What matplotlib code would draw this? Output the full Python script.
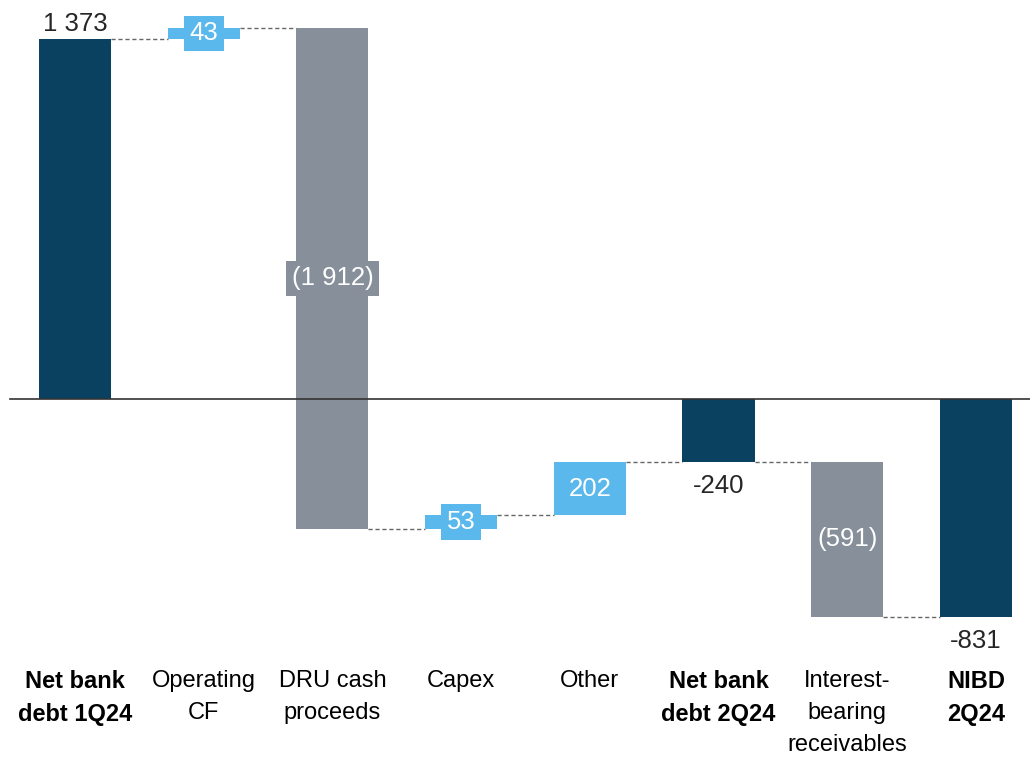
import matplotlib.pyplot as plt
from matplotlib.transforms import blended_transform_factory

# waterfall data (NOK million)
categories = ["Net bank\ndebt 1Q24", "Operating\nCF", "DRU cash\nproceeds", "Capex",
              "Other", "Net bank\ndebt 2Q24", "Interest-\nbearing\nreceivables", "NIBD\n2Q24"]
values = [1373, 43, -1912, 53, 202, -240, -591, -831]
is_total = [True, False, False, False, False, True, False, True]
value_labels = ["1 373", "43", "(1 912)", "53", "202", "-240", "(591)", "-831"]
bold_cats = [True, False, False, False, False, True, False, True]

NAVY = "#0b4160"
GREY = "#87909a"
BLUE = "#5bb8ec"
TEXT = "#262626"

plt.rcParams["font.family"] = ["Liberation Sans", "DejaVu Sans"]

fig = plt.figure(figsize=(10.3, 7.57), dpi=100)
ax = fig.add_axes([0, 0, 1, 1])
px = 0.2622  # pixels per unit
ax.set_xlim(-75 / 128.7, (1030 - 75) / 128.7)
ax.set_ylim(-(757 - 399) / px, 399 / px)
ax.axis("off")

width = 0.56
level = 0
bars = []
for i, (v, tot) in enumerate(zip(values, is_total)):
    if tot:
        bottom, top = min(0, v), max(0, v)
        color = NAVY
        level = v
    else:
        start = level
        level = level + v
        bottom, top = min(start, level), max(start, level)
        color = GREY if v < 0 else BLUE
    ax.bar(i, top - bottom, bottom=bottom, width=width, color=color, zorder=2)
    bars.append((bottom, top, color, level))

# dashed connectors
for i in range(len(bars) - 1):
    lvl = bars[i][3]
    ax.plot([i + width / 2, i + 1 - width / 2], [lvl, lvl], ls=(0, (3, 2)),
            color="#666666", lw=1.0, zorder=1)

ax.axhline(0, xmin=10 / 1030, xmax=1, color="#333333", lw=1.2, zorder=3)

# value labels
for i, (bottom, top, color, lvl) in enumerate(bars):
    lab = value_labels[i]
    if is_total[i]:
        if values[i] > 0:
            ax.text(i, top + 10, lab, ha="center", va="bottom", fontsize=18.5, color=TEXT)
        else:
            ax.text(i, bottom - 45, lab, ha="center", va="top", fontsize=18.5, color=TEXT)
    else:
        mid = (bottom + top) / 2
        ax.text(i, mid, lab, ha="center", va="center", fontsize=18.5, color="white", zorder=4,
                bbox=dict(facecolor=color, edgecolor="none", pad=4))

# category labels
trans = blended_transform_factory(ax.transData, fig.transFigure)
for i, (c, b) in enumerate(zip(categories, bold_cats)):
    ax.text(i, 1 - 670 / 757, c, ha="center", va="top", fontsize=17, color="black",
            fontweight="bold" if b else "normal", linespacing=1.58, transform=trans)

fig.savefig("out.png", dpi=100)
